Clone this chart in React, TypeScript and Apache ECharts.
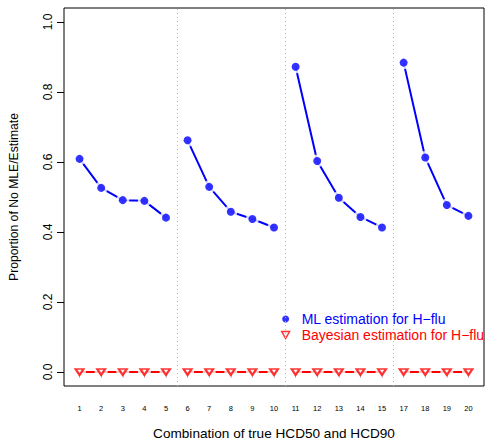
import React, { useEffect, useRef } from "react";
import * as echarts from "echarts";

const xLabels = ["1", "2", "3", "4", "5", "6", "7", "8", "9", "10", "11", "12", "13", "14", "15", "17", "18", "19", "20"];
const groupSizes = [5, 5, 5, 4];
const mlValues = [0.609, 0.526, 0.491, 0.489, 0.441, 0.662, 0.529, 0.458, 0.437, 0.413, 0.872, 0.603, 0.498, 0.443, 0.413, 0.884, 0.613, 0.477, 0.446];
const bayesValues = [0, 0, 0, 0, 0, 0, 0, 0, 0, 0, 0, 0, 0, 0, 0, 0, 0, 0, 0];
const yTicks = [0, 0.2, 0.4, 0.6, 0.8, 1.0];
const mlName = "ML estimation for H\u2212flu";
const bayesName = "Bayesian estimation for H\u2212flu";

const FONT = "Liberation Sans, Arial, Helvetica, sans-serif";
const BLUE = "#0000ff";
const RED = "#ff0000";

function withBreaks(values: number[]) {
  const out: any[] = [];
  let idx = 0;
  groupSizes.forEach((size, g) => {
    for (let k = 0; k < size; k++) {
      out.push([idx + 1, values[idx]]);
      idx++;
    }
    if (g < groupSizes.length - 1) out.push([idx + 0.5, null]);
  });
  return out;
}

function points(values: number[]) {
  return values.map((v, i) => [i + 1, v]);
}

function breakPositions() {
  const res: number[] = [];
  let idx = 0;
  groupSizes.slice(0, -1).forEach((s) => {
    idx += s;
    res.push(idx + 0.5);
  });
  return res;
}

export default function App() {
  const ref = useRef<HTMLDivElement>(null);
  useEffect(() => {
    if (!ref.current) return;
    const chart = echarts.init(ref.current, null, { renderer: "svg" });
    const xTickValues = xLabels.map((_, i) => i + 1);
    chart.setOption({
      animation: false,
      backgroundColor: "#ffffff",
      textStyle: { fontFamily: FONT },
      grid: {
        left: 64,
        right: 1,
        top: 8,
        bottom: 56,
        show: true,
        borderColor: "#000",
        borderWidth: 1,
        backgroundColor: "transparent",
        containLabel: false,
        outerBoundsMode: "none",
      },
      legend: {
        orient: "vertical",
        left: 276,
        top: 307,
        itemWidth: 10,
        itemHeight: 7,
        itemGap: 2,
        selectedMode: false,
        textStyle: { fontSize: 14, fontFamily: FONT, padding: [0, 0, 0, 6] },
        data: [
          { name: mlName, icon: "circle", itemStyle: { color: BLUE, borderWidth: 0 }, textStyle: { color: BLUE } },
          {
            name: bayesName,
            icon: "path://M0,0L10,0L5,9Z",
            itemStyle: { color: "#fff", borderColor: RED, borderWidth: 1.5 },
            textStyle: { color: RED },
          },
        ],
      },
      xAxis: {
        type: "value",
        min: 0.28,
        max: 19.72,
        offset: 1,
        axisLine: { show: false },
        splitLine: { show: false },
        axisTick: { show: true, customValues: xTickValues, length: 6, lineStyle: { color: "#000" } },
        axisLabel: {
          customValues: xTickValues,
          formatter: (v: number) => xLabels[Math.round(v) - 1] ?? "",
          fontSize: 7.5,
          color: "#000",
          margin: 17,
          fontFamily: FONT,
        },
        name: "Combination of true HCD50 and HCD90",
        nameLocation: "middle",
        nameGap: 39,
        nameTextStyle: { fontSize: 13.6, color: "#000", fontFamily: FONT },
      },
      yAxis: {
        type: "value",
        min: -0.04,
        max: 1.04,
        axisLine: { show: false },
        splitLine: { show: false },
        axisTick: { show: true, customValues: yTicks, length: 7, lineStyle: { color: "#000" } },
        axisLabel: {
          customValues: yTicks,
          formatter: (v: number) => v.toFixed(1),
          rotate: 90,
          fontSize: 12,
          color: "#000",
          margin: 10,
          fontFamily: FONT,
        },
        name: "Proportion of No MLE/Estimate",
        nameLocation: "middle",
        nameGap: 44,
        nameTextStyle: { fontSize: 12.2, color: "#000", fontFamily: FONT },
      },
      series: [
        {
          name: "ml-line",
          type: "line",
          data: withBreaks(mlValues),
          symbol: "none",
          connectNulls: false,
          lineStyle: { color: BLUE, width: 2 },
          z: 2,
          markLine: {
            silent: true,
            symbol: "none",
            label: { show: false },
            lineStyle: { color: "#b8b8b8", type: [1, 3], width: 1 },
            data: breakPositions().map((x) => ({ xAxis: x })),
          },
        },
        {
          name: "bayes-line",
          type: "line",
          data: withBreaks(bayesValues),
          symbol: "none",
          connectNulls: false,
          lineStyle: { color: RED, width: 2 },
          z: 2,
        },
        {
          name: "ml-halo",
          type: "scatter",
          data: points(mlValues),
          symbol: "circle",
          symbolSize: 13,
          itemStyle: { color: "#fff" },
          z: 3,
          silent: true,
        },
        {
          name: "bayes-halo",
          type: "scatter",
          data: points(bayesValues),
          symbol: "circle",
          symbolSize: 13,
          itemStyle: { color: "#fff" },
          z: 3,
          silent: true,
        },
        {
          name: mlName,
          type: "scatter",
          data: points(mlValues),
          symbol: "circle",
          symbolSize: 8,
          itemStyle: { color: BLUE },
          z: 4,
        },
        {
          name: bayesName,
          type: "scatter",
          data: points(bayesValues),
          symbol: "triangle",
          symbolRotate: 180,
          symbolSize: [8, 6],
          itemStyle: { color: "#fff", borderColor: RED, borderWidth: 2 },
          z: 4,
        },
      ],
    });
    return () => chart.dispose();
  }, []);
  return <div ref={ref} style={{ position: "absolute", left: 0, top: 0, width: 485, height: 442 }} />;
}
